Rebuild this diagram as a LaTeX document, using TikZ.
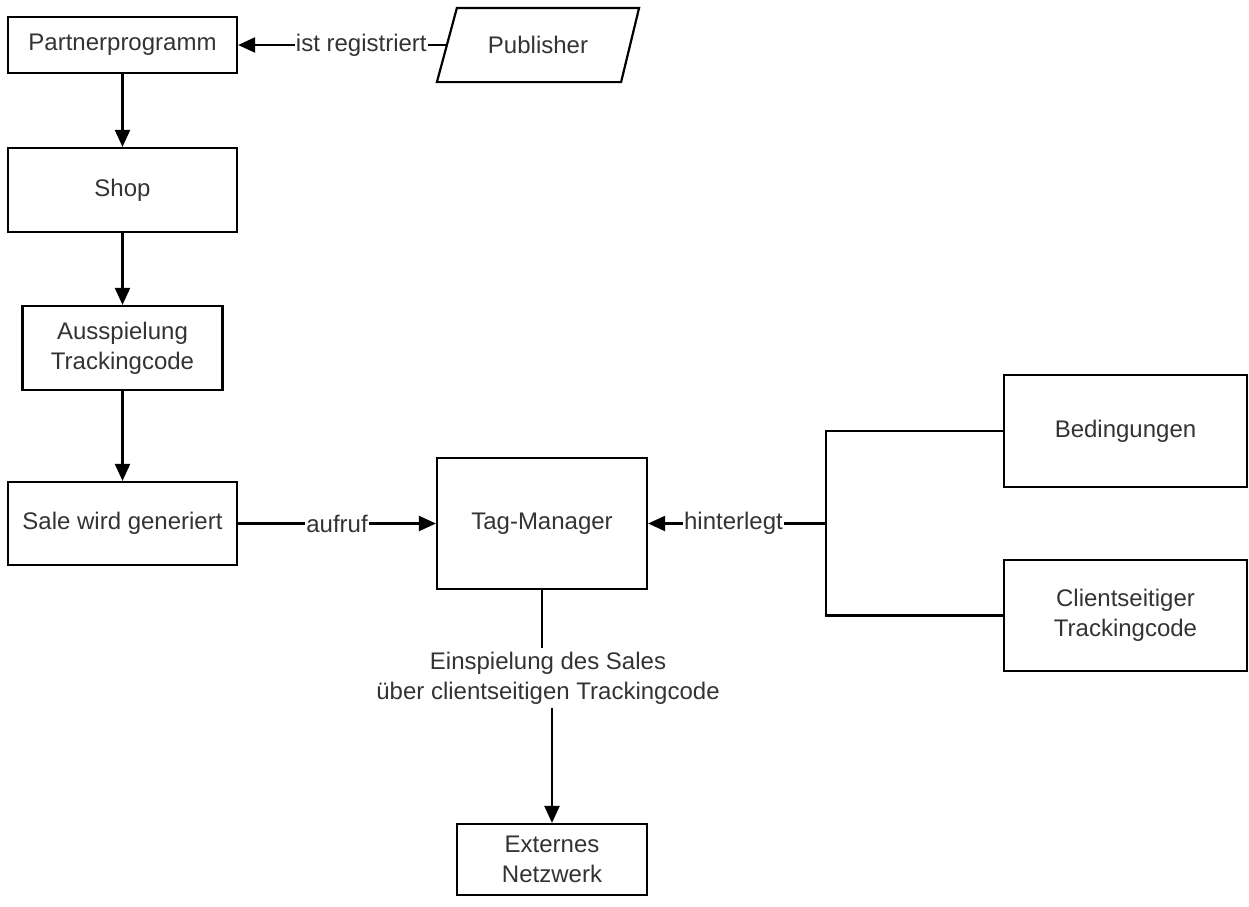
\documentclass[tikz,border=0pt]{standalone}
\usepackage{fontspec}
\setmainfont{Liberation Sans}
\usetikzlibrary{arrows.meta}
\definecolor{txt}{HTML}{333333}
\begin{document}
\begin{tikzpicture}[x=0.5pt,y=-0.5pt,
  box/.style={draw=black,line width=1.1pt,inner sep=0pt,align=center,text=txt,font=\fontsize{12}{15}\selectfont},
  lab/.style={fill=white,inner sep=0.5pt,text=txt,font=\fontsize{12}{15}\selectfont},
  conn/.style={draw=black,line width=1.1pt},
  arr/.style={conn,-{Triangle[length=8.5pt,width=7.5pt]}}]
\useasboundingbox (0,0) rectangle (1249,906);
\node[box,minimum width=114.5pt,minimum height=28pt] (pp) at (122.5,45) {Partnerprogramm};
\node[box,draw=none,minimum width=100pt,minimum height=36pt] (pub) at (538,45) {Publisher};
\draw[line width=1.1pt] (pub.south west) -- ([xshift=10pt]pub.north west) -- (pub.north east) -- ([xshift=-9pt]pub.south east) -- cycle;
\node[box,minimum width=114.5pt,minimum height=42pt] (shop) at (122.5,190) {Shop};
\node[box,minimum width=100pt,minimum height=42pt] (aus) at (122.5,348) {Ausspielung\\Trackingcode};
\node[box,minimum width=114.5pt,minimum height=41.5pt] (sale) at (122.5,523.5) {Sale wird generiert};
\node[box,minimum width=105pt,minimum height=65.5pt] (tm) at (542,523.5) {Tag-Manager};
\node[box,minimum width=121.5pt,minimum height=56pt] (bed) at (1125.5,431) {Bedingungen};
\node[box,minimum width=121.5pt,minimum height=55.5pt] (cli) at (1125.5,615.5) {Clientseitiger\\Trackingcode};
\node[box,minimum width=95pt,minimum height=35.5pt] (ext) at (552,859.5) {Externes\\Netzwerk};
\node[box,draw=none,inner xsep=1pt,inner ysep=1.5pt] (lbl) at (548,678) {Einspielung des Sales\\über clientseitigen Trackingcode};
\coordinate (j) at (826,523.5);

\draw[arr] ([xshift=5pt]pub.west) -- node[lab,pos=0.41] {ist registriert} (pp.east);
\draw[arr] (pp) -- (shop);
\draw[arr] (shop) -- (aus);
\draw[arr] (aus) -- (sale);
\draw[arr] (sale) -- node[lab] {aufruf} (tm);
\draw[conn] (bed.west) -| (j) |- (cli.west);
\draw[arr] (j) -- node[lab,pos=0.52] {hinterlegt} (tm.east);
\draw[conn] (tm.south) -- (tm.south |- lbl.north);
\draw[arr] (ext.north |- lbl.south) -- (ext.north);
\end{tikzpicture}
\end{document}
